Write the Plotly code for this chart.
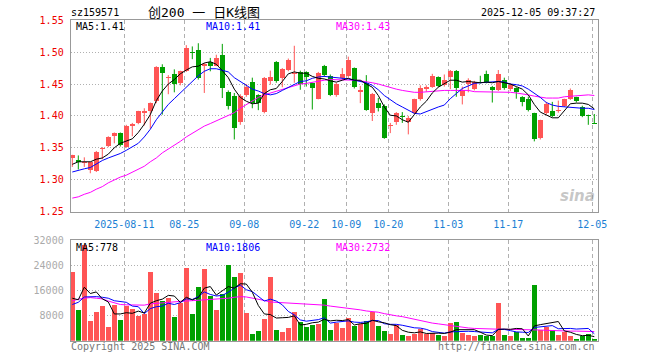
import plotly.graph_objects as go

# ---------------- data ----------------
opens = [1.334,1.331,1.326,1.315,1.314,1.348,1.352,1.369,1.373,1.351,
         1.384,1.389,1.404,1.407,1.423,1.477,1.459,1.466,1.452,1.470,
         1.500,1.504,1.478,1.484,1.479,1.495,1.438,1.432,1.390,1.433,
         1.453,1.433,1.406,1.454,1.484,1.459,1.472,1.466,1.469,1.469,
         1.451,1.427,1.478,1.463,1.433,1.460,1.462,1.475,1.437,1.452,
         1.404,1.421,1.415,1.384,1.391,1.399,1.391,1.404,1.426,1.442,
         1.446,1.461,1.448,1.461,1.471,1.432,1.450,1.442,1.460,1.465,
         1.446,1.440,1.457,1.442,1.443,1.430,1.426,1.404,1.366,1.404,
         1.407,1.408,1.416,1.426,1.429,1.414,1.401,1.389]
highs = [1.339,1.338,1.335,1.328,1.345,1.351,1.368,1.374,1.374,1.386,
         1.389,1.408,1.412,1.421,1.478,1.481,1.464,1.473,1.471,1.511,
         1.509,1.514,1.483,1.491,1.496,1.513,1.440,1.436,1.434,1.450,
         1.460,1.434,1.461,1.471,1.486,1.475,1.490,1.510,1.471,1.470,
         1.452,1.469,1.480,1.465,1.452,1.475,1.493,1.476,1.447,1.464,
         1.436,1.428,1.418,1.389,1.406,1.406,1.400,1.427,1.448,1.448,
         1.466,1.462,1.465,1.472,1.472,1.446,1.459,1.455,1.463,1.471,
         1.447,1.472,1.460,1.451,1.445,1.431,1.430,1.405,1.394,1.422,
         1.422,1.424,1.427,1.443,1.430,1.416,1.402,1.403]
lows = [1.320,1.316,1.320,1.310,1.312,1.332,1.351,1.357,1.352,1.350,
        1.368,1.387,1.385,1.380,1.420,1.402,1.434,1.437,1.448,1.469,
        1.489,1.457,1.436,1.470,1.478,1.428,1.410,1.363,1.386,1.430,
        1.412,1.409,1.404,1.449,1.452,1.445,1.470,1.452,1.441,1.446,
        1.410,1.426,1.461,1.431,1.430,1.457,1.460,1.443,1.420,1.408,
        1.392,1.407,1.364,1.373,1.386,1.389,1.371,1.403,1.424,1.438,
        1.444,1.445,1.446,1.442,1.430,1.418,1.437,1.440,1.451,1.451,
        1.421,1.439,1.441,1.439,1.427,1.415,1.407,1.360,1.363,1.402,
        1.398,1.405,1.414,1.425,1.421,1.398,1.386,1.388]
closes = [1.338,1.327,1.328,1.327,1.344,1.350,1.367,1.373,1.354,1.384,
          1.388,1.407,1.407,1.420,1.477,1.468,1.461,1.450,1.470,1.507,
          1.499,1.460,1.482,1.478,1.491,1.443,1.416,1.381,1.432,1.446,
          1.420,1.421,1.460,1.461,1.454,1.474,1.487,1.468,1.450,1.461,
          1.443,1.468,1.464,1.433,1.450,1.465,1.487,1.445,1.441,1.409,
          1.435,1.413,1.366,1.385,1.404,1.398,1.397,1.426,1.444,1.446,
          1.463,1.447,1.457,1.471,1.444,1.441,1.457,1.453,1.459,1.453,
          1.440,1.465,1.443,1.448,1.438,1.422,1.409,1.364,1.393,1.419,
          1.400,1.409,1.426,1.441,1.424,1.400,1.400,1.388]

ma5 = [1.324,1.328,1.328,1.328,1.332,1.334,1.340,1.350,1.357,1.361,
       1.364,1.374,1.387,1.402,1.424,1.439,1.450,1.457,1.466,1.472,
       1.477,1.478,1.483,1.485,1.481,1.471,1.460,1.442,1.429,1.423,
       1.419,1.420,1.435,1.441,1.443,1.454,1.466,1.469,1.467,1.467,
       1.462,1.459,1.458,1.455,1.453,1.456,1.459,1.456,1.456,1.450,
       1.445,1.432,1.414,1.401,1.400,1.394,1.390,1.402,1.414,1.423,
       1.436,1.445,1.451,1.456,1.456,1.453,1.454,1.453,1.452,1.453,
       1.452,1.454,1.452,1.450,1.446,1.442,1.433,1.418,1.406,1.401,
       1.397,1.397,1.408,1.419,1.420,1.420,1.418,1.411]
ma10 = [1.312,1.315,1.317,1.319,1.325,1.330,1.334,1.337,1.341,1.346,
        1.352,1.357,1.367,1.379,1.394,1.406,1.418,1.427,1.436,1.445,
        1.454,1.463,1.470,1.474,1.474,1.472,1.469,1.460,1.454,1.447,
        1.442,1.439,1.435,1.433,1.435,1.440,1.445,1.450,1.454,1.455,
        1.459,1.461,1.462,1.461,1.460,1.460,1.458,1.456,1.454,1.452,
        1.448,1.441,1.432,1.425,1.419,1.414,1.409,1.404,1.403,1.407,
        1.411,1.414,1.417,1.427,1.435,1.443,1.447,1.451,1.452,1.453,
        1.453,1.454,1.453,1.450,1.449,1.447,1.442,1.436,1.429,1.421,
        1.417,1.415,1.414,1.414,1.413,1.412,1.412,1.410]
ma30 = [1.271,1.273,1.277,1.280,1.285,1.289,1.295,1.300,1.304,1.307,
        1.312,1.316,1.321,1.328,1.334,1.342,1.348,1.353,1.360,1.367,
        1.373,1.378,1.384,1.388,1.392,1.396,1.400,1.405,1.412,1.418,
        1.424,1.429,1.433,1.436,1.439,1.442,1.445,1.448,1.450,1.451,
        1.453,1.455,1.456,1.457,1.457,1.457,1.457,1.456,1.455,1.454,
        1.452,1.450,1.447,1.445,1.442,1.440,1.438,1.437,1.437,1.438,
        1.439,1.440,1.440,1.440,1.440,1.440,1.440,1.438,1.438,1.438,
        1.438,1.438,1.438,1.437,1.436,1.435,1.433,1.431,1.429,1.428,
        1.428,1.428,1.430,1.431,1.432,1.433,1.433,1.432]

volumes = [21940,9750,30420,6250,9220,11020,4450,11340,6570,11130,
           10070,7950,8480,21940,15260,12610,13670,7630,11870,23210,
           8480,17170,22900,14310,9750,14840,24060,20350,21620,8900,
           2230,3070,6890,20250,3390,2760,3920,9120,5830,4450,
           4980,5300,13250,3390,5720,4130,7100,4770,5190,6250,
           9220,4770,3070,2120,4980,1800,1480,2230,3710,2120,
           2330,1800,1480,5720,5940,2540,1800,1480,1800,1480,
           1380,11980,1800,1480,2650,850,850,17700,3390,4240,
           3290,1800,2650,1480,640,1480,2120,640]
vma5 = [13500,13000,17000,15000,15500,13300,12300,8500,8500,8900,
        8700,9400,8800,11900,12700,13200,14400,14200,12200,13800,
        13000,13700,16700,17200,14500,15800,17200,16700,18100,18000,
        15400,11200,8500,8300,7200,7300,7400,7900,5000,5200,
        5700,5900,6800,6300,6500,6400,6700,5000,5400,5500,
        6500,6000,5700,5100,4800,3300,2700,2500,2800,2300,
        2400,2400,2300,2700,3500,3500,3500,3500,2700,1800,
        1600,3600,3700,3600,3900,3800,1500,4700,5100,5400,
        5900,6100,3100,2700,2000,1600,1700,1300]
vma10 = [11500,12200,13900,14000,14000,13800,13500,12700,12400,12200,
         11000,10800,8600,10200,10800,11000,11900,11500,12100,13300,
         13100,14000,15500,14700,14200,14400,15400,16700,17700,16200,
         15600,14200,12600,13200,12600,11400,9300,8200,6600,6200,
         6500,6700,7300,5600,5900,6000,6300,5900,5800,6000,
         6400,6400,5400,5200,5200,4900,4400,4100,4000,3600,
         2900,2600,2400,2800,2900,2900,3000,2900,2700,2600,
         2500,3600,3600,3200,2800,2700,2600,4200,4400,4600,
         4800,3800,3900,3900,3700,3800,3900,2200]
vma30 = [12600,13200,13500,13700,13500,13300,12600,12000,11500,11400,
         11300,11300,11300,11700,11900,12000,12100,12300,12500,12600,
         12700,12900,13000,13200,13300,13400,13500,13800,14000,13900,
         13600,13300,12800,12300,12200,12100,12000,11900,11700,11650,
         11600,11500,11300,11000,10800,10500,10300,10100,9800,9450,
         9250,9050,8600,8150,7900,7650,7200,6700,6350,5850,
         5600,5350,5050,4750,4500,4250,4050,3900,3800,3700,
         3650,3600,3600,3600,3600,3600,3550,3450,3400,3300,
         3200,3100,3050,3050,3050,3050,3000,2900]

tick_days = [9, 19, 29, 39, 46, 53, 63, 73, 87]
tick_labels = ["2025-08-11", "08-25", "09-08", "09-22", "10-09",
               "10-20", "11-03", "11-17", "12-05"]
price_ticks = [1.25, 1.30, 1.35, 1.40, 1.45, 1.50, 1.55]
vol_ticks = [8000, 16000, 24000, 32000]
vol_tick_labels = ["8000", "16000", "24000", "32000"]

# ---------------- styling ----------------
RED = "#ff5555"
GREEN = "#00a000"
MONO = "DejaVu Sans Mono, Liberation Mono, monospace"
W, H = 660, 360
PX_L, PX_R = 70.7, 597.7

n = len(closes)
idx = list(range(n))
up = [c >= o for o, c in zip(opens, closes)]

fig = go.Figure()

# wicks
for flag, col in ((True, RED), (False, GREEN)):
    wx, wy = [], []
    for i in idx:
        if up[i] == flag:
            wx += [i, i, None]
            wy += [lows[i], highs[i], None]
    fig.add_trace(go.Scatter(x=wx, y=wy, mode="lines",
                             line=dict(color=col, width=1),
                             hoverinfo="skip", xaxis="x", yaxis="y"))

# bodies
for flag, col in ((True, RED), (False, GREEN)):
    bx = [i for i in idx if up[i] == flag]
    base = [min(opens[i], closes[i]) for i in bx]
    hgt = [max(abs(closes[i] - opens[i]), 0.0011) for i in bx]
    fig.add_trace(go.Bar(x=bx, y=hgt, base=base, width=0.78,
                         marker=dict(color=col, line=dict(width=0)),
                         xaxis="x", yaxis="y", hoverinfo="skip"))

# price moving averages
for ser, col in ((ma30, "#ff00ff"), (ma10, "#0000ff"), (ma5, "#000000")):
    fig.add_trace(go.Scatter(x=idx, y=ser, mode="lines",
                             line=dict(color=col, width=1),
                             xaxis="x", yaxis="y", hoverinfo="skip"))

# volume bars
for flag, col in ((True, RED), (False, GREEN)):
    bx = [i for i in idx if up[i] == flag]
    fig.add_trace(go.Bar(x=bx, y=[volumes[i] for i in bx], width=0.8,
                         marker=dict(color=col, line=dict(width=0)),
                         xaxis="x2", yaxis="y2", hoverinfo="skip"))

for ser, col in ((vma30, "#ff00ff"), (vma10, "#0000ff"), (vma5, "#000000")):
    fig.add_trace(go.Scatter(x=idx, y=ser, mode="lines",
                             line=dict(color=col, width=1),
                             xaxis="x2", yaxis="y2", hoverinfo="skip"))

x_lo = -(72.3 - PX_L) / 6.0
x_hi = (n - 1) + (PX_R - (72.3 + 6 * (n - 1))) / 6.0
grid_x = [d - 1.0 / 3.0 for d in tick_days]
dom_x = [PX_L / W, PX_R / W]

common_x = dict(range=[x_lo, x_hi], domain=dom_x, tickmode="array",
                tickvals=grid_x, showgrid=True, gridcolor="#b0b0b0",
                griddash="4px,3px", gridwidth=1, zeroline=False,
                showline=True, linecolor="#999999", linewidth=1, mirror=True,
                ticks="", fixedrange=True, automargin=False)

fig.update_layout(
    template="none",
    width=W, height=H,
    margin=dict(l=0, r=0, t=0, b=0, pad=0, autoexpand=False),
    paper_bgcolor="white", plot_bgcolor="white",
    showlegend=False, barmode="overlay", bargap=0,
    font=dict(family=MONO, size=10),
    xaxis=dict(anchor="y", ticktext=tick_labels,
               tickfont=dict(color="#1a7fd4", size=10, family=MONO),
               ticklabelstandoff=3, **common_x),
    xaxis2=dict(anchor="y2", showticklabels=False, **common_x),
    yaxis=dict(domain=[1 - 211.5 / H, 1 - 20.3 / H], range=[1.25, 1.55],
               tickmode="array", tickvals=price_ticks,
               ticktext=["%.2f" % v for v in price_ticks],
               tickfont=dict(color="#ee0000", size=10, family=MONO),
               showgrid=True, gridcolor="#b0b0b0", griddash="1px,2px",
               zeroline=False, showline=True, linecolor="#999999",
               mirror=True, ticks="", ticklabelstandoff=4, fixedrange=True,
               automargin=False),
    yaxis2=dict(domain=[1 - 340.7 / H, 1 - 240 / H], range=[0, 32000],
                tickmode="array", tickvals=vol_ticks, ticktext=vol_tick_labels,
                tickfont=dict(color="#aaaaaa", size=10, family=MONO),
                showgrid=True, gridcolor="#b0b0b0", griddash="1px,2px",
                zeroline=False, showline=True, linecolor="#999999",
                mirror=True, ticks="", ticklabelstandoff=4, fixedrange=True,
                automargin=False),
)


def label(px, py, text, color, size=10, anchor="left", family=MONO, **kw):
    fig.add_annotation(x=px / W, y=1 - py / H, xref="paper", yref="paper",
                       text=text, showarrow=False, xanchor=anchor,
                       yanchor="middle",
                       font=dict(color=color, size=size, family=family), **kw)


CJK = "DejaVu Sans Mono, Noto Sans CJK SC, monospace"
label(69, 13, "sz159571", "#000000")
label(204, 13, "创200 一 日K线图", "#000000", size=13, anchor="center", family=CJK)
label(597, 13, "2025-12-05 09:37:27", "#000000", anchor="right")

label(74, 27, "MA5:1.41", "#000000")
label(204, 27, "MA10:1.41", "#0000ff")
label(334, 27, "MA30:1.43", "#ff00ff")

label(74, 247, "MA5:778", "#000000")
label(204, 247, "MA10:1806", "#0000ff")
label(334, 247, "MA30:2732", "#ff00ff")

label(69, 346, "Copyright 2025 SINA.COM", "#777777")
label(597, 346, "http://finance.sina.com.cn", "#777777", anchor="right")

label(597, 196, "<b><i>sina</i></b>", "rgba(150,150,150,0.55)", size=15,
      anchor="right", family="DejaVu Sans, sans-serif")

fig.write_html("out.html",
               config={"displayModeBar": False, "staticPlot": True},
               post_script="document.body.style.margin='0px';"
                           "document.body.style.overflow='hidden';")
